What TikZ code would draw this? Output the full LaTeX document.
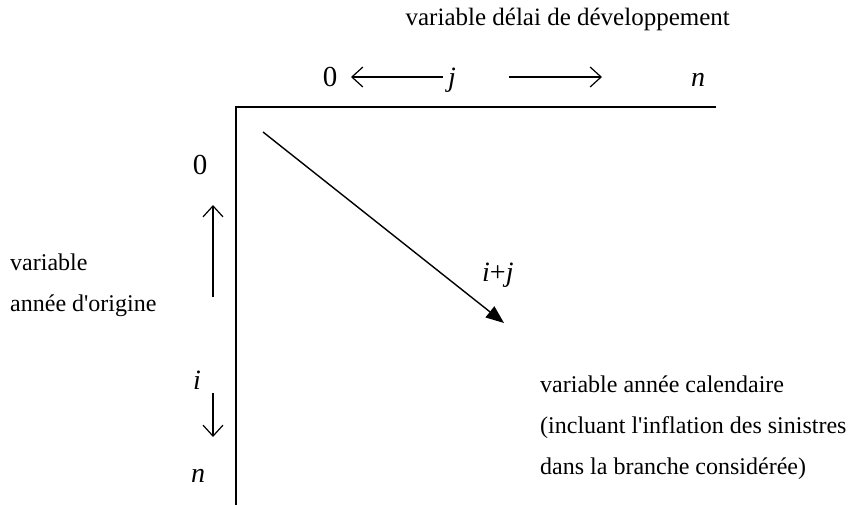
\documentclass[tikz,border=0pt]{standalone}
\usepackage{fontspec}
\setmainfont{Liberation Serif}[Ligatures=TeXOff]
\usetikzlibrary{arrows.meta}
\tikzset{
  body/.style={font=\fontsize{24}{29}\selectfont, inner sep=0pt},
  toptext/.style={font=\fontsize{25}{29}\selectfont, inner sep=0pt},
  lbl/.style={font=\fontsize{28}{32}\selectfont\itshape, inner sep=0pt, anchor=base},
  num/.style={font=\fontsize{29}{32}\selectfont, inner sep=0pt, anchor=base},
  barb/.style={line width=1.2pt, -{Straight Barb[length=11pt,width=20pt,line width=1.2pt]}},
  axis/.style={line width=2pt},
  diag/.style={line width=1.4pt, -{Triangle[length=18pt,width=14pt]}}
}
\begin{document}
\begin{tikzpicture}[x=1pt,y=-1pt]
\useasboundingbox (0,0) rectangle (849,504);
% axes
\coordinate (hx) at (716,107);
\coordinate (corner) at (236,107);
\coordinate (vy) at (236,506);
\draw[axis] (hx) -- (corner) -- (vy);
% top labels
\node[toptext, anchor=base east] (toplbl) at (730,25) {variable délai de développement};
\node[num] (t0) at (330,86) {0};
\node[lbl] (tj) at (452,86) {j};
\node[lbl] (tn) at (698,86) {n};
\coordinate (la0) at (443,77);
\coordinate (la1) at (351,77);
\coordinate (ra0) at (509,77);
\coordinate (ra1) at (602,77);
\draw[barb] (la0) -- (la1);
\draw[barb] (ra0) -- (ra1);
% left labels
\node[num] (l0) at (200,174) {0};
\node[lbl] (li) at (197,389) {i};
\node[lbl] (ln) at (198,482) {n};
\coordinate (ua0) at (213,297);
\coordinate (ua1) at (213,205);
\coordinate (da0) at (213,393);
\coordinate (da1) at (213,437);
\draw[barb] (ua0) -- (ua1);
\draw[barb] (da0) -- (da1);
\node[body, anchor=base west] (lv1) at (10,270) {variable};
\node[body, anchor=base west] (lv2) at (10,311) {année d'origine};
% diagonal
\coordinate (d0) at (263,132);
\coordinate (d1) at (504,323);
\draw[diag] (d0) -- (d1);
\node[lbl, anchor=base west] (ij) at (482,281) {i\upshape+\itshape j};
% right text
\node[body, anchor=base west] (r1) at (540,392) {variable année calendaire};
\node[body, anchor=base west] (r2) at (540,433) {(incluant l'inflation des sinistres};
\node[body, anchor=base west] (r3) at (540,474) {dans la branche considérée)};
\end{tikzpicture}
\end{document}
